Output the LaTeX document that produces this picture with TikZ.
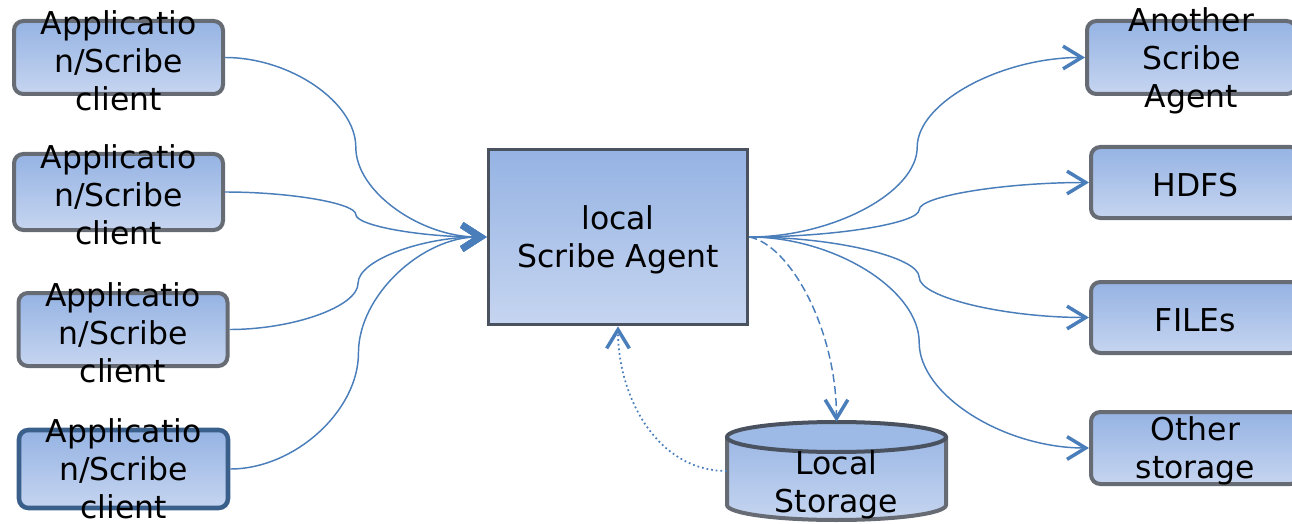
\documentclass[tikz,border=0pt]{standalone}
\usepackage{fontspec}
\setmainfont{DejaVu Sans}
\usetikzlibrary{arrows.meta,calc}

\definecolor{link}{HTML}{4A7EBB}
\definecolor{boxtop}{HTML}{95B3E3}
\definecolor{boxbot}{HTML}{C6D5F0}
\definecolor{frame}{HTML}{676C74}
\definecolor{frameblue}{HTML}{3A5F8B}
\definecolor{frameagent}{HTML}{4A5260}

\tikzset{
  box/.style={draw=frame, line width=3pt, top color=boxtop, bottom color=boxbot,
    inner sep=0pt},
  rbox/.style={box, rounded corners=7pt, minimum width=209*0.75pt},
  lbl/.style={align=center, inner sep=0pt, yshift=-2.25pt, font=\fontsize{23.6}{28.5}\selectfont},
  wire/.style={draw=link, line width=1.1pt},
  tipv/.style={-{Straight Barb[length=14pt,width=17pt,line width'=2.6pt]}},
  tipin/.style={-{Straight Barb[length=14pt,width=18pt,line width'=5pt]}},
  % S-shaped connector: horizontal at both ends, vertical tangent half way
  elbow/.style={to path={let \p1=(\tikztostart), \p2=(\tikztotarget) in
    .. controls ({\x1+(\x2-\x1)/4},\y1) and ({(\x1+\x2)/2},{\y1+(\y2-\y1)/4})
    .. ({(\x1+\x2)/2},{(\y1+\y2)/2})
    .. controls ({(\x1+\x2)/2},{\y1+3*(\y2-\y1)/4}) and ({\x1+3*(\x2-\x1)/4},\y2)
    .. (\tikztotarget)}}
}

\begin{document}
\begin{tikzpicture}[x=0.75pt,y=-0.75pt]
\useasboundingbox (0,0) rectangle (1292,524);
\clip (0,0) rectangle (1292,524);

% clients
\node[rbox, minimum height=73*0.75pt] (c1) at (118.5,57.5) {};
\node[rbox, minimum height=76*0.75pt] (c2) at (118.5,192) {};
\node[rbox, minimum height=73*0.75pt] (c3) at (123,329.5) {};
\node[rbox, minimum height=78*0.75pt, draw=frameblue, line width=3.4pt] (c4) at (123.5,469) {};

% central agent
\node[box, draw=frameagent, line width=2.8pt, minimum width=259*0.75pt,
      minimum height=175*0.75pt] (agent) at (618,237) {};

% destinations
\node[rbox, minimum height=73*0.75pt] (r1) at (1191.5,57.5) {};
\node[rbox, minimum height=71*0.75pt] (r2) at (1195.5,182.5) {};
\node[rbox, minimum height=71*0.75pt] (r3) at (1195.5,317.5) {};
\node[rbox, minimum height=72*0.75pt] (r4) at (1195.5,448) {};

% local storage cylinder
\shade[top color=boxtop, bottom color=boxbot]
  (727,437) -- (727,505) arc[start angle=180, end angle=0, x radius=109.5, y radius=15]
  -- (946,437) arc[start angle=0, end angle=-180, x radius=109.5, y radius=15] -- cycle;
\draw[draw=frame, line width=3pt]
  (727,437) -- (727,505) arc[start angle=180, end angle=0, x radius=109.5, y radius=15]
  -- (946,437);
\draw[draw=frameagent, line width=3pt, fill=boxtop!92!white]
  (836.5,437) ellipse[x radius=109.5, y radius=15];
\node[minimum width=219*0.75pt, minimum height=98*0.75pt, inner sep=0pt] (storage) at (836.5,471) {};

% incoming connectors
\draw[wire, tipin] (c1.east) to[elbow] (agent.west);
\draw[wire, tipin] (c2.east) to[elbow] (agent.west);
\draw[wire, tipin] (c3.east) to[elbow] (agent.west);
\draw[wire, tipin] (c4.east) to[elbow] (agent.west);

% outgoing connectors
\draw[wire, tipv] (agent.east) to[elbow] (r1.west);
\draw[wire, tipv] (agent.east) to[elbow] (r2.west);
\draw[wire, tipv] (agent.east) to[elbow] (r3.west);
\draw[wire, tipv] (agent.east) to[elbow] (r4.west);

% spooling to local storage and replay
\draw[wire, tipv, dash pattern=on 6pt off 3pt]
  (agent.east) .. controls ($(agent.east)+(41,8)$) and ($(storage.north)+(0,-92)$) .. (storage.north);
\draw[wire, tipv, line width=1.3pt, dash pattern=on 1.3pt off 2.2pt]
  (storage.west) .. controls ($(storage.west)+(-70,0)$) and ($(agent.south)+(0,70)$) .. (agent.south);

% labels
\node[lbl] (t1) at (c1) {Applicatio\\n/Scribe\\client};
\node[lbl] (t2) at (c2) {Applicatio\\n/Scribe\\client};
\node[lbl] (t3) at (c3) {Applicatio\\n/Scribe\\client};
\node[lbl, yshift=2.5pt] (t4) at (c4) {Applicatio\\n/Scribe\\client};
\node[lbl] (ta) at (agent) {local\\Scribe Agent};
\node[lbl] (tr1) at (r1) {Another\\Scribe\\Agent};
\node[lbl] (tr2) at (r2) {HDFS};
\node[lbl] (tr3) at (r3) {FILEs};
\node[lbl] (tr4) at (r4) {Other\\storage};
\node[lbl] (ts) at (836.5,482) {Local\\Storage};
\end{tikzpicture}
\end{document}
